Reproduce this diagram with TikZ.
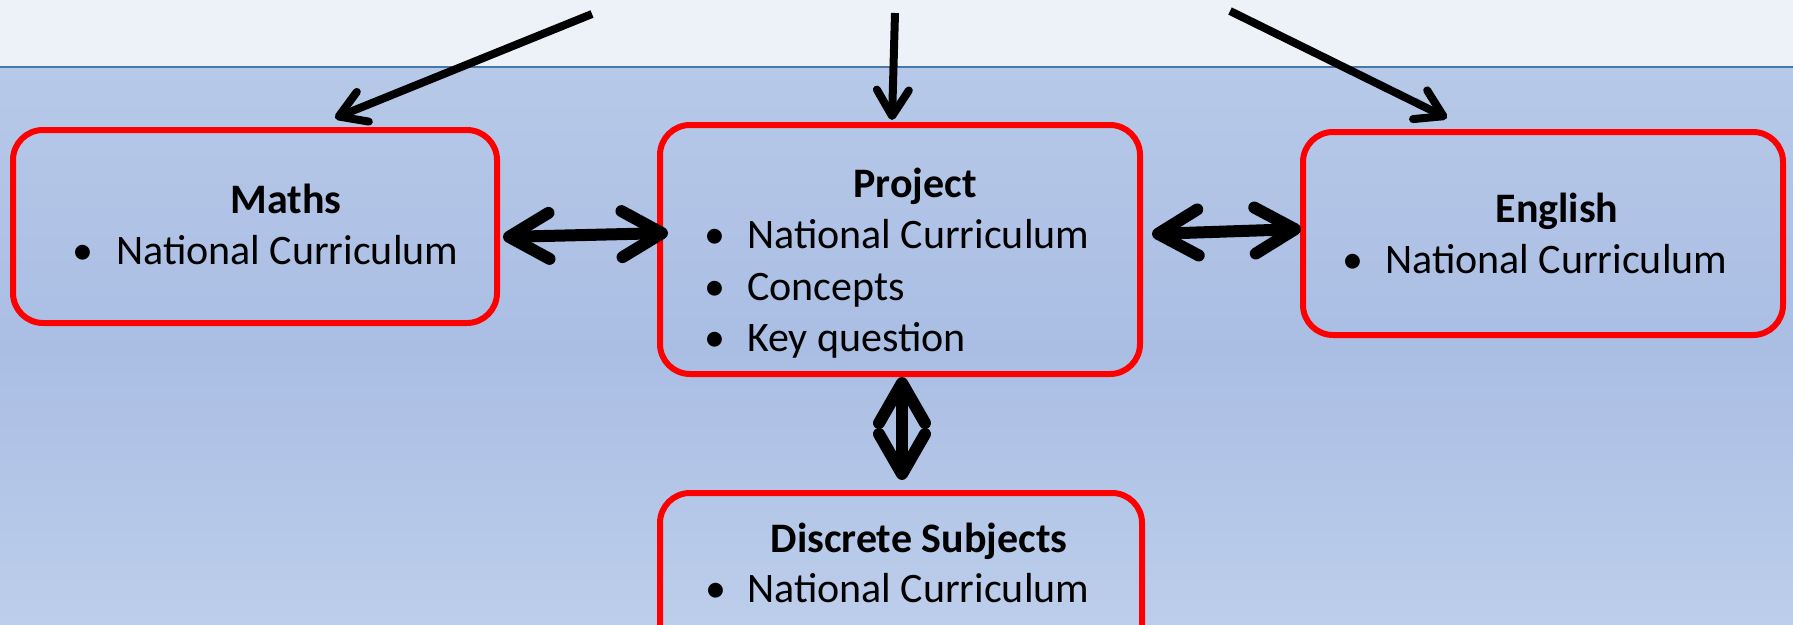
\documentclass[tikz,border=0pt]{standalone}
\usepackage{fontspec}
\setmainfont{Carlito}
\usetikzlibrary{arrows.meta}
\definecolor{bandbg}{HTML}{EDF2F9}
\definecolor{bandline}{HTML}{4A77A9}
\definecolor{bgtop}{HTML}{B7C9E8}
\definecolor{bgmid}{HTML}{AABEE4}
\definecolor{bgbot}{HTML}{BDCEEB}
\definecolor{boxred}{HTML}{FF0000}
\tikzset{
  subjbox/.style={draw=boxred, line width=6pt, rounded corners=30pt, inner sep=0pt},
  txt/.style={inner sep=0pt, font=\fontsize{42}{50}\selectfont},
  ttl/.style={txt, font=\fontsize{42}{50}\selectfont\bfseries},
  onearrow/.style={line width=8pt, -{Straight Barb[length=26pt,width=32pt,round]}},
  twoarrow/.style={line width=12pt, {Straight Barb[length=40pt,width=46pt,round]}-{Straight Barb[length=40pt,width=46pt,round]}}
}
\begin{document}
\begin{tikzpicture}[x=1pt,y=-1pt]
\useasboundingbox (0,0) rectangle (1793,624);
% background
\fill[bandbg] (0,0) rectangle (1793,67);
\shade[top color=bgtop, bottom color=bgmid] (0,67) rectangle (1793,350);
\shade[top color=bgmid, bottom color=bgbot] (0,349.5) rectangle (1793,624);
\draw[bandline, line width=2.5pt] (0,67) -- (1793,67);
% boxes
\node[subjbox, minimum width=484pt, minimum height=193pt] (maths) at (255,226.5) {};
\node[subjbox, minimum width=480pt, minimum height=249pt] (project) at (900,249.5) {};
\node[subjbox, minimum width=480pt, minimum height=203pt] (english) at (1543,233.5) {};
\node[subjbox, minimum width=482pt, minimum height=170pt] (discrete) at (901,578) {};
% texts
\node[ttl, anchor=base] (mathsT) at (286,213) {Maths};
\node[txt, anchor=base] (mathsB1) at (83,264) {•};
\node[txt, anchor=base west] (mathsL1) at (116,264) {National Curriculum};

\node[ttl, anchor=base] (projT) at (915,197) {Project};
\node[txt, anchor=base] (projB1) at (715,248) {•};
\node[txt, anchor=base west] (projL1) at (747,248) {National Curriculum};
\node[txt, anchor=base] (projB2) at (715,300) {•};
\node[txt, anchor=base west] (projL2) at (747,300) {Concepts};
\node[txt, anchor=base] (projB3) at (715,351) {•};
\node[txt, anchor=base west] (projL3) at (747,351) {Key question};

\node[ttl, anchor=base] (engT) at (1557,222) {English};
\node[txt, anchor=base] (engB1) at (1353,273) {•};
\node[txt, anchor=base west] (engL1) at (1385,273) {National Curriculum};

\node[ttl, anchor=base] (discT) at (919,552) {Discrete Subjects};
\node[txt, anchor=base] (discB1) at (716,602) {•};
\node[txt, anchor=base west] (discL1) at (747,602) {National Curriculum};
% connector end points
\coordinate (t1) at (592,14);
\coordinate (h1) at (335,118);
\coordinate (t2) at (895,13);
\coordinate (h2) at (892,120);
\coordinate (t3) at (1230,11);
\coordinate (h3) at (1447,118);
\coordinate (mp1) at (503,237);
\coordinate (mp2) at (668,233);
\coordinate (pe1) at (1152,234);
\coordinate (pe2) at (1301,229);
\coordinate (pd1) at (902,377);
\coordinate (pd2) at (902,480);
% connectors
\draw[onearrow] (t1) -- (h1);
\draw[onearrow] (t2) -- (h2);
\draw[onearrow] (t3) -- (h3);
\draw[twoarrow] (mp1) -- (mp2);
\draw[twoarrow] (pe1) -- (pe2);
\draw[twoarrow] (pd1) -- (pd2);
\end{tikzpicture}
\end{document}
